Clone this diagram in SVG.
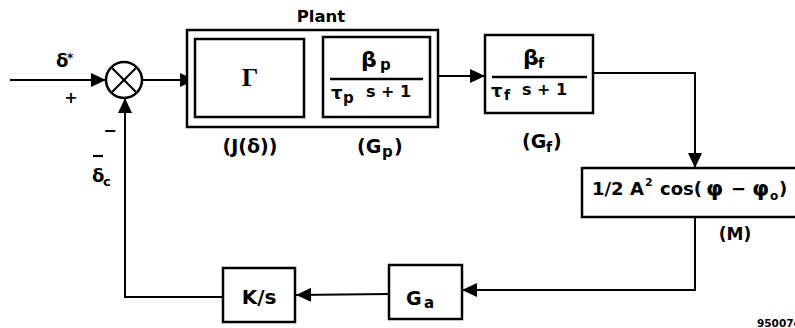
<svg xmlns="http://www.w3.org/2000/svg" width="795" height="328" viewBox="0 0 795 328">
<defs>
<marker id="arr" markerUnits="userSpaceOnUse" markerWidth="16" markerHeight="14" refX="15" refY="7" orient="auto">
<path d="M0,0 L15,7 L0,14 Z" fill="#000"/>
</marker>
<style>
.box{fill:#fff;stroke:#000;stroke-width:2.5}
.ln{fill:none;stroke:#000;stroke-width:2}
.b{font-family:"DejaVu Sans","Liberation Sans",sans-serif;font-weight:bold;fill:#000}
.s{font-family:"Liberation Serif","DejaVu Serif",serif;fill:#000}
</style>
</defs>
<rect width="795" height="328" fill="#fff"/>

<g id="connectors">
<line class="ln" x1="10" y1="80" x2="106" y2="80" marker-end="url(#arr)"/>
<line class="ln" x1="142" y1="80" x2="195" y2="80" marker-end="url(#arr)"/>
<line class="ln" x1="304" y1="79" x2="323" y2="79"/>
<line class="ln" x1="430" y1="76" x2="485" y2="76" marker-end="url(#arr)"/>
<polyline class="ln" points="593,73 695,73 695,168" marker-end="url(#arr)"/>
<polyline class="ln" points="695,217 695,290 462,290" marker-end="url(#arr)"/>
<line class="ln" x1="389" y1="294" x2="296" y2="295" marker-end="url(#arr)"/>
<polyline class="ln" points="223,297 125,297 125,98" marker-end="url(#arr)"/>
</g>

<g id="input-label">
<text class="b" x="56" y="67" font-size="18">δ</text>
<text class="b" x="67" y="62" font-size="12">*</text>
<text class="b" x="71" y="103" font-size="16" text-anchor="middle">+</text>
</g>

<g id="sum">
<circle cx="124" cy="80" r="18" fill="#fff" stroke="#000" stroke-width="2.5"/>
<line class="ln" x1="111.3" y1="67.3" x2="136.7" y2="92.7"/>
<line class="ln" x1="136.7" y1="67.3" x2="111.3" y2="92.7"/>
<text class="b" x="110" y="136" font-size="16" text-anchor="middle">−</text>
</g>

<g id="feedback-label">
<line x1="93" y1="156" x2="103" y2="156" stroke="#000" stroke-width="2.2"/>
<text class="b" x="92" y="182" font-size="18">δ</text>
<text class="b" x="103" y="186" font-size="13">c</text>
</g>

<g id="plant">
<rect class="box" x="187" y="30" width="251" height="97"/>
<text class="b" x="321" y="22" font-size="16.5" text-anchor="middle">Plant</text>
</g>

<g id="gamma">
<rect class="box" x="195" y="39" width="109" height="78"/>
<text class="s" x="250" y="86" font-size="26" text-anchor="middle" font-weight="bold">Γ</text>
<text class="b" x="250" y="153" font-size="19" text-anchor="middle">(J(δ))</text>
</g>

<g id="gp">
<rect class="box" x="323" y="37" width="107" height="80"/>
<text class="b" x="361" y="67" font-size="22">β</text>
<text class="b" x="380" y="70" font-size="15">p</text>
<line x1="330" y1="79" x2="423" y2="79" stroke="#000" stroke-width="2.5"/>
<text class="b" x="331" y="99" font-size="18">τ</text>
<text class="b" x="343" y="103" font-size="15">p</text>
<text class="b" x="366" y="97" font-size="16">s + 1</text>
<text class="b" x="357" y="153" font-size="19">(G</text>
<text class="b" x="382" y="157" font-size="15">p</text>
<text class="b" x="394" y="153" font-size="19">)</text>
</g>

<g id="gf">
<rect class="box" x="485" y="35" width="108" height="78"/>
<text class="b" x="523" y="65" font-size="22">β</text>
<text class="b" x="538" y="68" font-size="14">f</text>
<line x1="492" y1="77" x2="587" y2="77" stroke="#000" stroke-width="2.5"/>
<text class="b" x="491" y="97" font-size="18">τ</text>
<text class="b" x="504" y="100" font-size="14">f</text>
<text class="b" x="522" y="95" font-size="16">s + 1</text>
<text class="b" x="522" y="148" font-size="19">(G</text>
<text class="b" x="546" y="152" font-size="14">f</text>
<text class="b" x="553" y="148" font-size="19">)</text>
</g>

<g id="m">
<rect class="box" x="582" y="168" width="220" height="49"/>
<text class="b" x="592" y="195" font-size="18">1/2 A</text>
<text class="b" x="645" y="186" font-size="11">2</text>
<text class="b" x="660" y="195" font-size="18">cos(</text>
<text class="b" x="706" y="196" font-size="22">φ</text>
<text class="b" x="731" y="195" font-size="18">−</text>
<text class="b" x="752" y="196" font-size="22">φ</text>
<text class="b" x="770" y="200" font-size="12">o</text>
<text class="b" x="779" y="195" font-size="18">)</text>
<text class="b" x="735" y="240" font-size="17" text-anchor="middle">(M)</text>
</g>

<g id="ga">
<rect class="box" x="389" y="265" width="73" height="54"/>
<text class="b" x="406" y="305" font-size="19">G</text>
<text class="b" x="424" y="308" font-size="15">a</text>
</g>

<g id="ks">
<rect class="box" x="223" y="268" width="72" height="54"/>
<text class="b" x="259" y="304" font-size="20" text-anchor="middle">K/s</text>
</g>

<text class="b" x="757" y="327" font-size="10.5">950074</text>
</svg>
